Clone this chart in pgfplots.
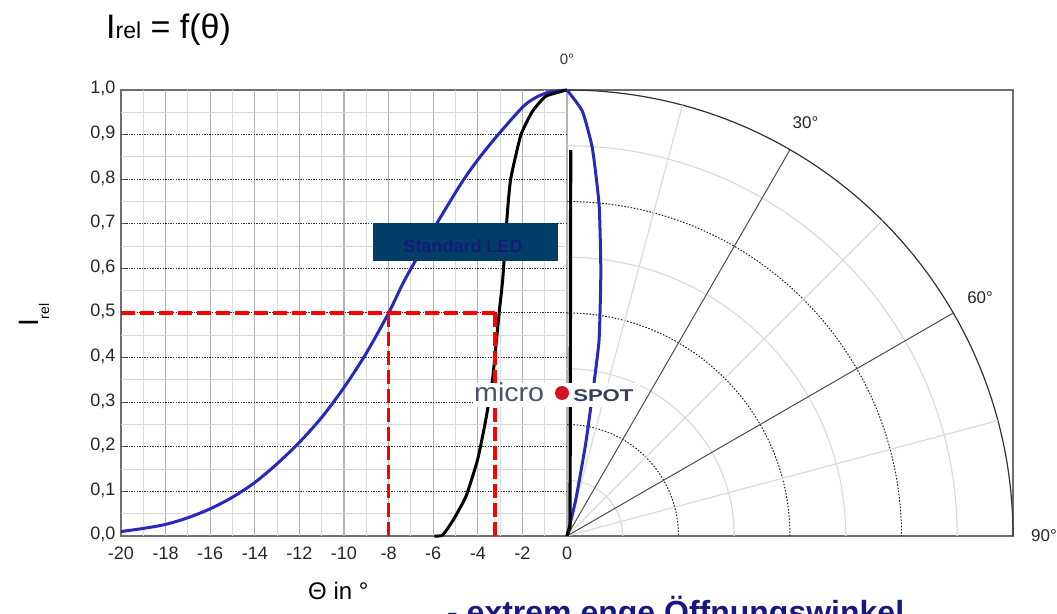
\documentclass[border=0pt]{standalone}
\usepackage{fontspec}
\setmainfont{Liberation Sans}
\usepackage{pgfplots}
\usepackage{pgfplotstable}
\pgfplotsset{compat=1.18}
\definecolor{ledblue}{RGB}{40,40,190}
\definecolor{boxfill}{RGB}{0,62,104}
\definecolor{boxtext}{RGB}{24,24,120}
\definecolor{navy}{RGB}{24,24,130}
\definecolor{logogray}{RGB}{75,82,112}
\definecolor{logodark}{RGB}{55,62,92}
\definecolor{logored}{RGB}{210,20,40}
\definecolor{framegray}{RGB}{110,110,110}

\pgfplotstableread{
x y
-20 0.010
-19 0.017
-18 0.026
-17 0.041
-16 0.061
-15 0.087
-14 0.120
-13 0.162
-12 0.210
-11 0.266
-10 0.333
-9 0.410
-8 0.500
-7.3 0.572
-6.5 0.643
-5.8 0.704
-4.7 0.794
-3.9 0.850
-3.0 0.905
-1.85 0.968
-0.95 0.993
0 1.0
}\stdcart

\pgfplotstableread{
x y
-5.95 0.0
-5.58 0.002
-5.10 0.036
-4.53 0.089
-4.01 0.171
-3.64 0.261
-3.34 0.351
-3.20 0.420
-3.04 0.502
-2.88 0.577
-2.67 0.727
-2.52 0.802
-2.07 0.899
-1.55 0.952
-0.95 0.986
0 1.0
}\spotcart

\pgfplotstableread{
t r
0 1.0
2.07 0.953
3.75 0.871
5.55 0.745
7.3 0.597
9.27 0.447
10.0 0.35
11.4 0.214
13.6 0.083
0 0
}\stdpolar

\pgfplotstableread{
t r
0 0
18.4 0.0214
0.55 0.865
}\spotpolar

\begin{document}
\begin{tikzpicture}[x=1pt,y=1pt]
\useasboundingbox (0pt,0pt) rectangle (1057pt,613pt);
\begin{axis}[
  at={(121pt,77pt)}, anchor=south west,
  width=892pt, height=446pt, scale only axis,
  xmin=-20, xmax=20, ymin=0, ymax=1,
  clip=false,
  axis line style={draw=framegray, line width=1.6pt},
  xtick={-20,-18,-16,-14,-12,-10,-8,-6,-4,-2,0},
  xticklabels={-20,-18,-16,-14,-12,-10,-8,-6,-4,-2,0},
  ytick={0,0.1,0.2,0.3,0.4,0.5,0.6,0.7,0.8,0.9,1.0},
  yticklabels={{0,0},{0,1},{0,2},{0,3},{0,4},{0,5},{0,6},{0,7},{0,8},{0,9},{1,0}},
  typeset ticklabels with strut,
  minor x tick num=1, minor y tick num=1,
  xtick pos=left, ytick pos=left,
  tick align=inside,
  major tick length=5pt, minor tick length=3pt,
  every tick/.style={framegray, line width=1pt},
  tick label style={font=\fontsize{18}{20}\selectfont, text=black!85},
  xticklabel style={yshift=-6pt},
  yticklabel style={xshift=-2pt},
]
% left grid
\pgfplotsinvokeforeach{-19,-17,-15,-13,-11,-9,-7,-5,-3,-1}{
  \draw[gray!28, line width=1pt] (axis cs:#1,0) -- (axis cs:#1,1);}
\pgfplotsinvokeforeach{-18,-16,-14,-12,-10,-8,-6,-4,-2,0}{
  \draw[gray!60, line width=1.2pt] (axis cs:#1,0) -- (axis cs:#1,1);}
\pgfplotsinvokeforeach{0.05,0.15,0.25,0.35,0.45,0.55,0.65,0.75,0.85,0.95}{
  \draw[gray!32, line width=1pt] (axis cs:-20,#1) -- (axis cs:0,#1);}
\pgfplotsinvokeforeach{0.1,0.2,0.3,0.4,0.5,0.6,0.7,0.8,0.9}{
  \draw[black!80, line width=1pt, dash pattern=on 1.3pt off 1.3pt] (axis cs:-20,#1) -- (axis cs:0,#1);}
% polar grid
\pgfplotsinvokeforeach{0.125,0.375,0.625,0.875}{
  \draw[gray!28, line width=1.2pt] (axis cs:0,#1) arc[start angle=90, end angle=0, radius=#1*446pt];}
\pgfplotsinvokeforeach{0.25,0.5,0.75}{
  \draw[black!85, line width=1pt, dash pattern=on 1.6pt off 1.6pt] (axis cs:0,#1) arc[start angle=90, end angle=0, radius=#1*446pt];}
\draw[black!80, line width=1.2pt] (axis cs:0,1) arc[start angle=90, end angle=0, radius=446pt];
\pgfplotsinvokeforeach{75,45,15}{
  \draw[gray!28, line width=1.2pt] (axis cs:0,0) -- ++(#1:446pt);}
\pgfplotsinvokeforeach{60,30}{
  \draw[black!70, line width=1pt] (axis cs:0,0) -- ++(#1:446pt);}
% angle labels
\node[font=\fontsize{15}{17}\selectfont, text=black!80] at ([shift={(90:477pt)}]axis cs:0,0) {0°};
\node[font=\fontsize{17}{19}\selectfont, text=black!85] at ([shift={(60:477pt)}]axis cs:0,0) {30°};
\node[font=\fontsize{17}{19}\selectfont, text=black!85] at ([shift={(30:477pt)}]axis cs:0,0) {60°};
\node[font=\fontsize{17}{19}\selectfont, text=black!85] at ([shift={(0:477pt)}]axis cs:0,0) {90°};
% curves
\addplot[ledblue, line width=3pt, smooth, tension=0.5] table[x=x,y=y] {\stdcart};
\addplot[black, line width=3pt, smooth, tension=0.3] table[x=x,y=y] {\spotcart};
\addplot[ledblue, line width=3pt, smooth, tension=0.3] table[x expr={20*\thisrow{r}*sin(\thisrow{t})}, y expr={\thisrow{r}*cos(\thisrow{t})}] {\stdpolar};
\addplot[black, line width=3.2pt] table[x expr={20*\thisrow{r}*sin(\thisrow{t})}, y expr={\thisrow{r}*cos(\thisrow{t})}] {\spotpolar};
% red dashed guides
\addplot[red, line width=3.6pt, dash pattern=on 14pt off 5pt] coordinates {(-20,0.5) (-3.22,0.5)};
\addplot[red, line width=3.6pt, dash pattern=on 14pt off 5pt] coordinates {(-8,0) (-8,0.5)};
\addplot[red, line width=3.6pt, dash pattern=on 14pt off 5pt] coordinates {(-3.22,0) (-3.22,0.5)};
\end{axis}
% title
\node[anchor=base west, inner sep=0pt] at (106pt,574pt) {\fontsize{34}{38}\selectfont I{\fontsize{23}{26}\selectfont rel} = f(θ)};
% y label
\node[rotate=90, anchor=base west, inner sep=0pt] at (38pt,286pt) {\fontsize{28}{30}\selectfont I\raisebox{-11pt}{\fontsize{14}{16}\selectfont rel}};
% x label
\node[anchor=base west, inner sep=0pt] at (308pt,14pt) {\fontsize{24}{26}\selectfont Θ in °};
% Standard LED box
\fill[boxfill] (373pt,352pt) rectangle (558pt,390pt);
\node[anchor=center, inner sep=0pt, text=boxtext] at (463pt,367pt) {\fontsize{18}{20}\selectfont\bfseries Standard LED};
% microSPOT logo
\fill[white] (473pt,206pt) rectangle (640pt,230pt);
\node[anchor=base west, inner sep=0pt, text=logogray, xscale=1.1] at (474pt,211pt) {\fontsize{26}{28}\selectfont micro};
\fill[logored] (562pt,220pt) circle (7pt);
\node[anchor=base west, inner sep=0pt, text=logodark, xscale=1.3] at (573pt,211pt) {\fontsize{17}{19}\selectfont\bfseries SPOT};
% bottom text (cut by page edge)
\node[anchor=base west, inner sep=0pt, text=navy] at (447pt,-10.5pt) {\fontsize{32}{34}\selectfont\bfseries - extrem enge Öffnungswinkel};
\end{tikzpicture}
\end{document}
